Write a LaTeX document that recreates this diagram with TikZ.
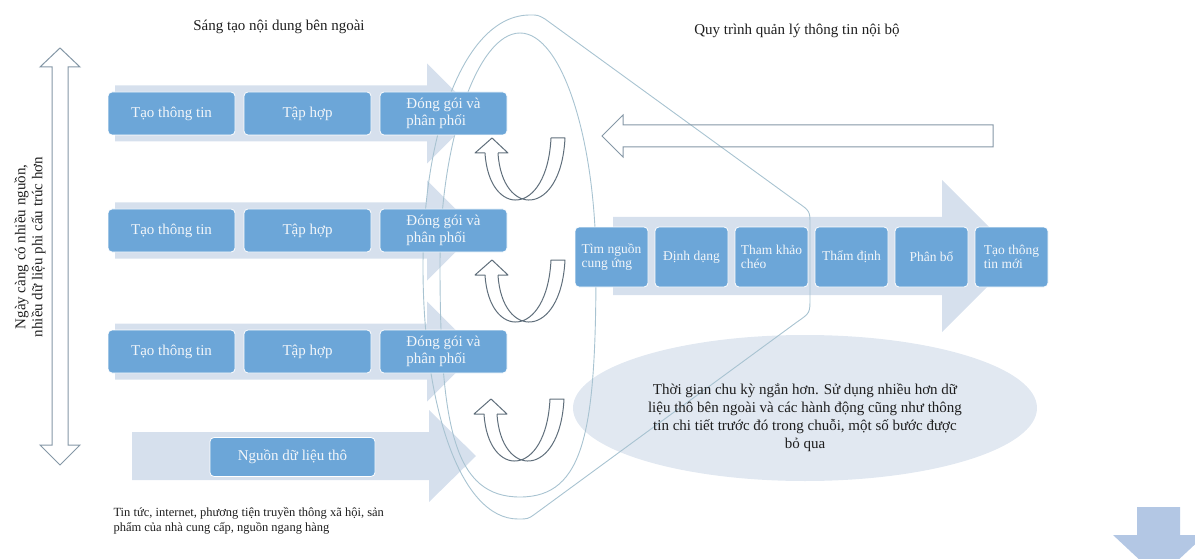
\documentclass[tikz,border=0pt]{standalone}
\usepackage{fontspec}
\setmainfont{Liberation Serif}
\newcommand\fsz[2]{\fontsize{#1}{#2}\selectfont}
\definecolor{boxblue}{HTML}{6CA6D8}
\definecolor{bandfill}{HTML}{D6E0ED}
\definecolor{funnelline}{HTML}{A8C3D1}
\definecolor{uline}{HTML}{5F6E7B}
\definecolor{outl}{HTML}{8497A6}
\definecolor{ellfill}{HTML}{E1E8F1}
\definecolor{downfill}{HTML}{B3C7E4}
\definecolor{boxtext}{HTML}{F2F6FA}
\definecolor{ink}{HTML}{1E1E1E}
% U-shaped return arrow, tip of the arrow head at (#1,#2)
\newcommand\uturnarrow[2]{%
  \begin{scope}[shift={(#1,#2)}]
    \draw[uarrow] (-7,15) -- (-17,15) -- (0,0) -- (16,15) -- (6,15);
    \draw[uarrow] (-7,15) .. controls (-3,80) and (55,80) .. (59,0) -- (73,0)
                  .. controls (69,80) and (10,80) .. (6,15);
  \end{scope}}
% light process band with arrow head, centred on row y=#1
\newcommand\rowband[1]{%
  \fill[bandfill] (115,#1-28) -- (427,#1-28) -- (427,#1-50) -- (477,#1)
    -- (427,#1+50) -- (427,#1+28) -- (115,#1+28) -- cycle;}
\begin{document}
\begin{tikzpicture}[x=1pt,y=-1pt,
  boxL/.style={rectangle, rounded corners=4pt, fill=boxblue, draw=white,
    line width=0.8pt, text=boxtext, font=\fsz{15}{16.5}, minimum width=127pt,
    minimum height=43pt, align=left, inner sep=1pt},
  boxR/.style={boxL, minimum width=73pt, minimum height=60pt, font=\fsz{13.5}{14.5}},
  label/.style={text=ink, font=\fsz{15}{17}},
  uarrow/.style={draw=uline, line width=1pt, line join=round},
  funnel/.style={draw=funnelline, line width=0.9pt},
  hollow/.style={draw=outl, line width=1pt, line join=miter}]
\clip (0,0) rectangle (1195,559);
\useasboundingbox (0,0) rectangle (1195,559);

% note ellipse
\fill[ellfill] (805,408) ellipse [x radius=232, y radius=73];

% background process bands
\rowband{113.5}
\rowband{230.5}
\rowband{351.5}
\fill[bandfill] (132,432) -- (429,432) -- (429,410) -- (476,456) -- (429,502)
  -- (429,480) -- (132,480) -- cycle;
\fill[bandfill] (613,217) -- (942,217) -- (942,180) -- (1018,256) -- (942,332)
  -- (942,295) -- (613,295) -- cycle;

% funnel outline and inner loop
\draw[funnel] (530,15) .. controls (465,15) and (423,130) .. (423,267)
  .. controls (423,405) and (460,519) .. (518,519) .. controls (528,519) .. (535,514)
  -- (797,322) .. controls (810,313) .. (810,298) -- (810,225)
  .. controls (810,211) .. (797,202) -- (545,19) .. controls (538,15) .. (530,15);
\draw[funnel] (520,33) .. controls (562,33) and (596,140) .. (596,265)
  .. controls (596,430) and (585,497) .. (520,497)
  .. controls (455,497) and (440,430) .. (440,265)
  .. controls (440,140) and (478,33) .. (520,33);

% external content rows
\node[boxL] (a1) at (171.5,113.5) {Tạo thông tin};
\node[boxL] (b1) at (307.5,113.5) {Tập hợp};
\node[boxL] (c1) at (443.5,113.5) {Đóng gói và\\phân phối};
\node[boxL] (a2) at (171.5,230.5) {Tạo thông tin};
\node[boxL] (b2) at (307.5,230.5) {Tập hợp};
\node[boxL] (c2) at (443.5,230.5) {Đóng gói và\\phân phối};
\node[boxL] (a3) at (171.5,351.5) {Tạo thông tin};
\node[boxL] (b3) at (307.5,351.5) {Tập hợp};
\node[boxL] (c3) at (443.5,351.5) {Đóng gói và\\phân phối};
\node[boxL, minimum width=165pt, minimum height=39pt] (raw) at (292.5,457) {Nguồn dữ liệu thô};

% internal process
\node[boxR] (p1) at (611.5,257) {Tìm nguồn\\cung ứng};
\node[boxR] (p2) at (691.5,257) {Định dạng};
\node[boxR] (p3) at (771.5,257) {Tham khảo\\chéo};
\node[boxR] (p4) at (851.5,257) {Thẩm định};
\node[boxR] (p5) at (931.5,257) {Phân bổ};
\node[boxR] (p6) at (1011.5,257) {Tạo thông\\tin mới};

% return arrows
\uturnarrow{492}{138}
\uturnarrow{492}{260}
\uturnarrow{491}{399}

% feedback arrow
\draw[hollow] (602,136) -- (623,115) -- (623,125) -- (993,125) -- (993,147)
  -- (623,147) -- (623,157) -- cycle;

% vertical double arrow
\draw[hollow] (60,48) -- (80,67) -- (68,67) -- (68,445) -- (80,445) -- (60,465)
  -- (40,445) -- (52,445) -- (52,67) -- (40,67) -- cycle;

% down arrow in the corner
\fill[downfill] (1137,507) -- (1180,507) -- (1180,535) -- (1205,535) -- (1159,578)
  -- (1113,535) -- (1137,535) -- cycle;

% labels
\node[label] (titleL) at (279,27) {Sáng tạo nội dung bên ngoài};
\node[label] (titleR) at (797,31) {Quy trình quản lý thông tin nội bộ};
\node[label, rotate=90, align=center] (trend) at (30,247)
  {Ngày càng có nhiều nguồn,\\nhiều dữ liệu phi cấu trúc hơn};
\node[label, align=center, font=\fsz{15}{18}] (note) at (805,418)
  {Thời gian chu kỳ ngắn hơn. Sử dụng nhiều hơn dữ\\
   liệu thô bên ngoài và các hành động cũng như thông\\
   tin chi tiết trước đó trong chuỗi, một số bước được\\
   bỏ qua};
\node[label, anchor=west, align=left, font=\fsz{12.5}{15.5}] (src) at (110,521)
  {Tin tức, internet, phương tiện truyền thông xã hội, sản\\
   phẩm của nhà cung cấp, nguồn ngang hàng};
\end{tikzpicture}
\end{document}
